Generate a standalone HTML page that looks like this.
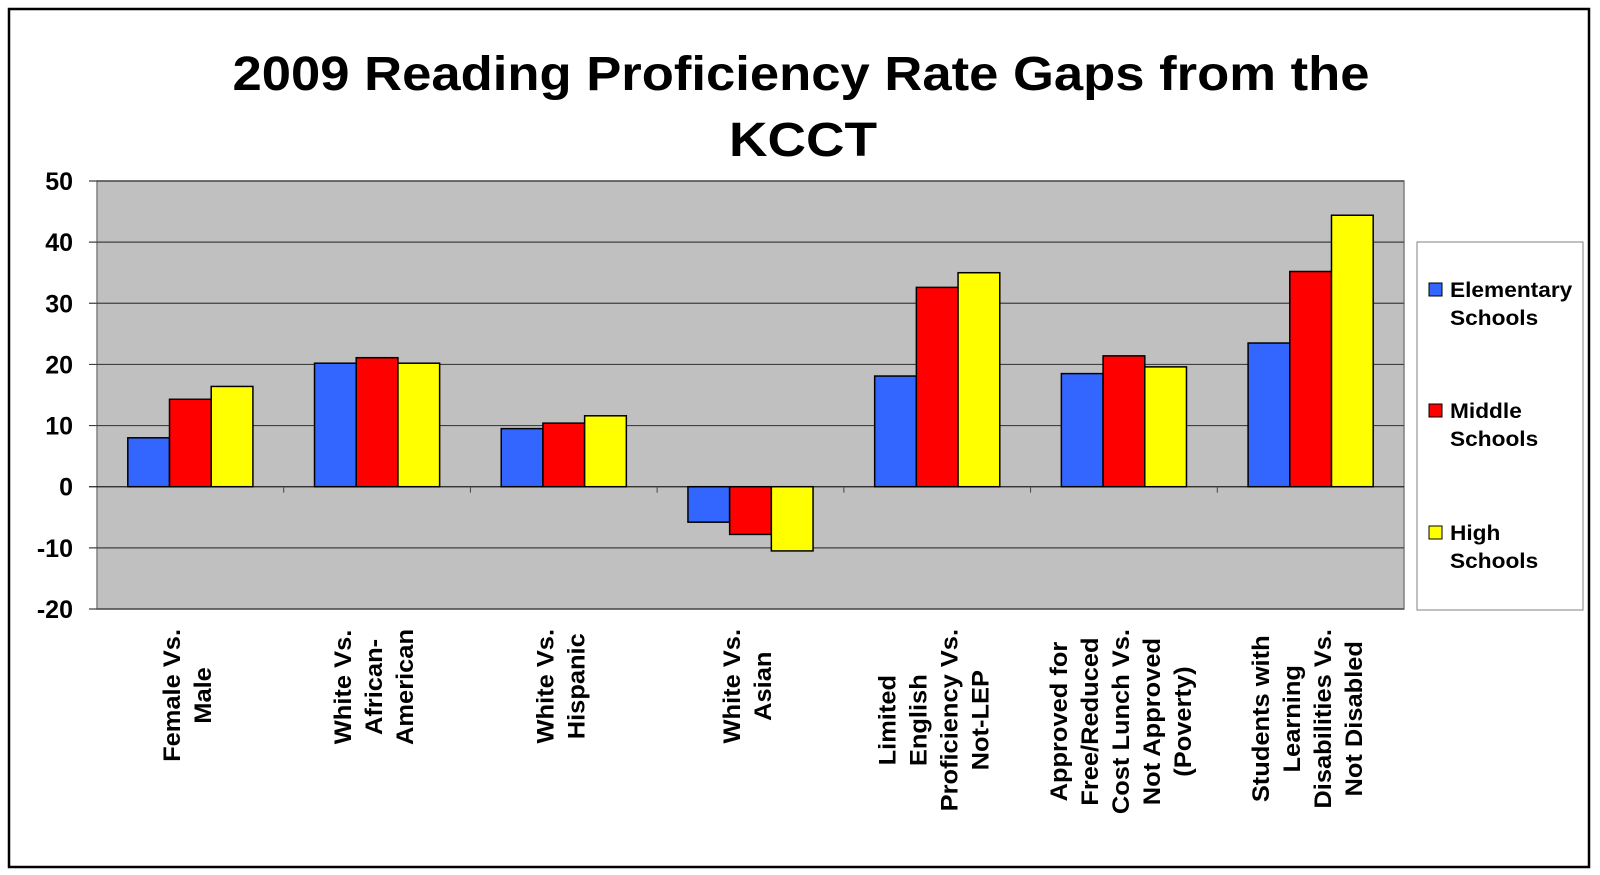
<!DOCTYPE html>
<html><head><meta charset="utf-8"><style>
body{margin:0;background:#fff;}
svg{display:block;font-family:"Liberation Sans",Arial,sans-serif;font-weight:bold;}
</style></head><body>
<svg id="chart" width="1600" height="875">
<rect x="9" y="9" width="1580" height="858" fill="#fff" stroke="#000" stroke-width="2.5"/>
<text x="801" y="90" font-size="48" text-anchor="middle" textLength="1137" lengthAdjust="spacingAndGlyphs">2009 Reading Proficiency Rate Gaps from the</text>
<text x="803" y="156" font-size="48" text-anchor="middle" textLength="148" lengthAdjust="spacingAndGlyphs">KCCT</text>
<rect x="97" y="181" width="1307" height="428" fill="#c0c0c0" stroke="#808080" stroke-width="1.5"/>
<g id="grid"></g><g id="bars"></g><g id="labels"></g>
<rect x="1417" y="242" width="166" height="368" fill="#fff" stroke="#808080"/>
<g id="legend"></g>
</svg>
<script>
const categories=[["Female Vs.","Male"],["White Vs.","African-","American"],["White Vs.","Hispanic"],["White Vs.","Asian"],["Limited","English","Proficiency Vs.","Not-LEP"],["Approved for","Free/Reduced","Cost Lunch Vs.","Not Approved","(Poverty)"],["Students with","Learning","Disabilities Vs.","Not Disabled"]];
const elementary=[8,20.2,9.5,-5.8,18.1,18.5,23.5];
const middle=[14.3,21.1,10.4,-7.8,32.6,21.4,35.2];
const high=[16.4,20.2,11.6,-10.5,35,19.6,44.4];
const seriesNames=[["Elementary","Schools"],["Middle","Schools"],["High","Schools"]];
const yTicks=[50,40,30,20,10,0,-10,-20];
const NS="http://www.w3.org/2000/svg";
const X0=97,X1=1404,Y0=181,Y1=609,ymin=-20,ymax=50;
const y=v=>Y1-(v-ymin)/(ymax-ymin)*(Y1-Y0);
const cw=(X1-X0)/categories.length;
const cx=i=>X0+cw*(i+0.5);
function mk(t,a,p){const e=document.createElementNS(NS,t);for(const k in a)e.setAttribute(k,a[k]);p.appendChild(e);return e;}
function stretch(t,f){const w=t.getComputedTextLength();t.setAttribute('textLength',w*f);t.setAttribute('lengthAdjust','spacingAndGlyphs');}
const grid=document.getElementById('grid');
yTicks.forEach(v=>{
 const l=mk('line',{x1:X0-8,x2:X1,y1:y(v),y2:y(v),stroke:(v===0?'#222':'#404040'),'stroke-width':1.2},grid);
 
 
 const t=mk('text',{x:73,y:y(v)+9,'font-size':25,'text-anchor':'end'},grid);
 t.textContent=v;
 
 
});
for(let i=1;i<categories.length;i++){
 const l=mk('line',{x1:X0+cw*i,x2:X0+cw*i,y1:y(0),y2:y(0)+6,stroke:'#444'},grid);
 
 
}
const colors=['#3366ff','#ff0000','#ffff00'];
const series=[elementary,middle,high];
const bw=41.7;
const bars=document.getElementById('bars');
series.forEach((s,si)=>s.forEach((v,i)=>{
 const x=cx(i)-1.5*bw+si*bw;
 const r=mk('rect',{x:x,y:Math.min(y(v),y(0)),width:bw,height:Math.abs(y(v)-y(0)),fill:colors[si],stroke:'#000','stroke-width':1.5},bars);
 
 
}));
const labels=document.getElementById('labels');
categories.forEach((lines,i)=>{
 const g=mk('g',{},labels);
 
 
 const ts=lines.map((ln,j)=>{const t=mk('text',{'font-size':24,'text-anchor':'middle'},g);t.textContent=ln;stretch(t,1.06);return t;});
 const maxW=Math.max(...ts.map(t=>+t.getAttribute('textLength')));
 const cy=629+maxW/2;
 const n=lines.length;
 ts.forEach((t,j)=>{
  const lx=cx(i)+(j-(n-1)/2)*31+5;
  t.setAttribute('transform','translate('+lx+','+cy+') rotate(-90)');
 });
});
const leg=document.getElementById('legend');
const ly=[297,418,540];
seriesNames.forEach((nm,k)=>{
 const r=mk('rect',{x:1429,y:ly[k]-14,width:13,height:13,fill:colors[k],stroke:'#000'},leg);
 
 
 nm.forEach((s,j)=>{
  const t=mk('text',{x:1450,y:ly[k]+j*28,'font-size':21},leg);
  t.textContent=s;
  stretch(t,1.08);
  
  
 });
});
</script>
</body></html>
